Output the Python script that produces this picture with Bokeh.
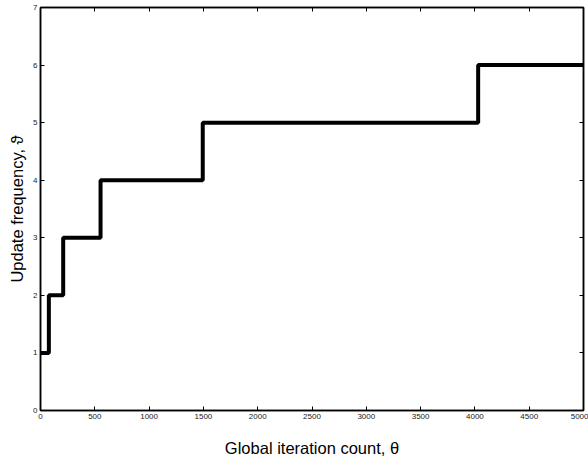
from bokeh.plotting import figure
from bokeh.models import LinearAxis, Range1d, FixedTicker
from bokeh.embed import file_html
from bokeh.resources import INLINE

# data: step changes of the update frequency
iterations = [0, 77, 209, 553, 1494, 4030, 5000]
frequency = [1, 2, 3, 4, 5, 6, 6]
x_ticks = [0, 500, 1000, 1500, 2000, 2500, 3000, 3500, 4000, 4500, 5000]
y_ticks = [0, 1, 2, 3, 4, 5, 6, 7]

FONT = "Liberation Sans"

p = figure(width=588, height=459, output_backend="svg", toolbar_location=None,
           x_range=Range1d(0, 5000), y_range=Range1d(0, 7),
           min_border_left=40, min_border_right=5, min_border_top=7, min_border_bottom=46,
           x_axis_label="Global iteration count, \u03b8",
           y_axis_label="Update frequency, \u03d1")
p.grid.visible = False
p.outline_line_color = "black"
p.outline_line_width = 1.5

p.step(iterations, frequency, mode="after", line_color="black", line_width=4)

bottom = p.below[0]
left = p.left[0]
top = LinearAxis(ticker=FixedTicker(ticks=x_ticks),
                 major_label_overrides={t: "" for t in x_ticks})
right = LinearAxis(ticker=FixedTicker(ticks=y_ticks),
                   major_label_overrides={t: "" for t in y_ticks})
p.add_layout(top, "above")
p.add_layout(right, "right")

bottom.ticker = FixedTicker(ticks=x_ticks)
left.ticker = FixedTicker(ticks=y_ticks)

for ax in (bottom, left, top, right):
    ax.major_tick_in = 4
    ax.major_tick_out = 0
    ax.minor_tick_in = 0
    ax.minor_tick_out = 0
    ax.axis_line_color = "black"
    ax.axis_line_width = 1.5
    ax.major_label_text_font = FONT
    ax.major_label_text_font_size = "8px"
    ax.major_label_text_color = "#222222"
    ax.axis_label_text_font = FONT
    ax.axis_label_text_font_size = "16.5px"
    ax.axis_label_text_font_style = "normal"
    ax.axis_label_text_color = "black"
    ax.major_label_standoff = 3

for ax in (top, right):
    ax.major_label_standoff = 0

bottom.axis_label_standoff = 17
left.axis_label_standoff = 4

out = file_html(p, INLINE)
open("out.html", "w").write(out)
